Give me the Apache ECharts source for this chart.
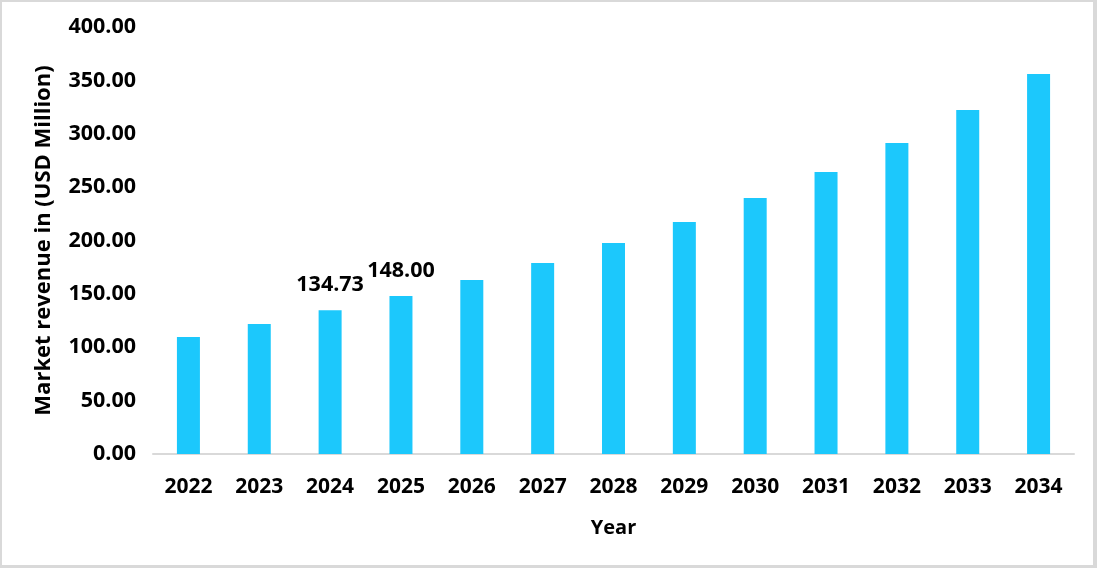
<!DOCTYPE html>
<html>
<head>
<meta charset="utf-8">
<script src="https://cdn.jsdelivr.net/npm/echarts@6/dist/echarts.min.js"></script>
<style>
html,body{margin:0;padding:0;background:#fff;}
#wrap{position:relative;width:1097px;height:568px;}
#chart{position:absolute;left:0;top:0;width:1097px;height:568px;}
#frame{position:absolute;left:0;top:0;width:1097px;height:568px;box-sizing:border-box;border:2px solid #d9d9d9;border-right-width:4px;border-bottom-width:3px;pointer-events:none;}
</style>
</head>
<body>
<div id="wrap"><div id="chart"></div><div id="frame"></div></div>
<script>
const years = ['2022','2023','2024','2025','2026','2027','2028','2029','2030','2031','2032','2033','2034'];
const revenue = [109.6, 121.8, 134.73, 148.00, 163.0, 178.9, 197.7, 217.3, 239.8, 264.2, 291.3, 322.2, 356.0];
const labeledYears = ['2024','2025'];
const yTicks = {min: 0, max: 400, interval: 50};

const FONT = '"Open Sans", "Noto Sans", sans-serif';
const chart = echarts.init(document.getElementById('chart'));
chart.setOption({
  animation: false,
  grid: {left: 153, right: 23, top: 27, bottom: 114, containLabel: false},
  xAxis: {
    type: 'category',
    data: years,
    name: 'Year',
    nameLocation: 'middle',
    nameGap: 64,
    nameTextStyle: {fontFamily: FONT, fontWeight: 'bold', fontSize: 20, color: '#000'},
    axisLine: {lineStyle: {color: '#d9d9d9', width: 2}},
    axisTick: {show: false},
    axisLabel: {fontFamily: FONT, fontWeight: 'bold', fontSize: 21, color: '#000', margin: 23}
  },
  yAxis: {
    type: 'value',
    min: yTicks.min, max: yTicks.max, interval: yTicks.interval,
    name: 'Market revenue in (USD Million)',
    nameLocation: 'middle',
    nameGap: 98,
    nameTextStyle: {fontFamily: FONT, fontWeight: 'bold', fontSize: 22, color: '#000'},
    axisLine: {show: false},
    axisTick: {show: false},
    splitLine: {show: false},
    axisLabel: {fontFamily: FONT, fontWeight: 'bold', fontSize: 21.5, color: '#000', margin: 17,
      formatter: v => v.toFixed(2)}
  },
  series: [{
    type: 'bar',
    barWidth: 23,
    itemStyle: {color: '#1cc8fc'},
    data: revenue.map((v, i) => ({
      value: v,
      label: {show: labeledYears.includes(years[i])}
    })),
    label: {
      position: 'top', distance: 14,
      fontFamily: FONT, fontWeight: 'bold', fontSize: 21.5, color: '#000',
      formatter: p => p.value.toFixed(2)
    }
  }]
});
</script>
</body>
</html>
